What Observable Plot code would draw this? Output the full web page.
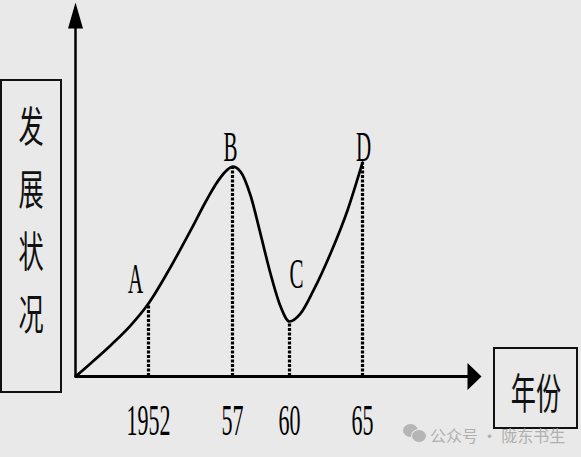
<!DOCTYPE html>
<html>
<head>
<meta charset="utf-8">
<script src="https://cdn.jsdelivr.net/npm/d3@7"></script>
<script src="https://cdn.jsdelivr.net/npm/@observablehq/plot@0.6"></script>
<style>
  html, body { margin: 0; padding: 0; background: #e9e9e9; }
  #wrap { position: relative; width: 581px; height: 457px; overflow: hidden; background: #e9e9e9; }
  #chart { position: absolute; left: 0; top: 0; }
  .box { position: absolute; border: 2.5px solid #111; box-sizing: border-box; font-family: "Noto Sans CJK SC", sans-serif; color: #111; }
  #ybox { left: 0px; top: 79px; width: 62px; height: 314px; padding-top: 12px; }
  #ybox .ch { height: 62.5px; line-height: 62.5px; text-align: center; font-size: 42px; transform: scaleX(0.6); }
  #xbox { left: 493px; top: 347px; width: 85px; height: 82px; display: flex; align-items: center; justify-content: center; padding-top: 6px; }
  #xbox .ch { font-size: 42px; line-height: 1; transform: scaleX(0.6); white-space: nowrap; }
  #wm { position: absolute; left: 430px; top: 425px; font-family: "Noto Sans CJK SC", sans-serif; font-size: 16px; line-height: 20px; color: #b0b0b0; white-space: pre; }
  .bub { position: absolute; background: #b5b5b5; border-radius: 50%; }
</style>
</head>
<body>
<div id="wrap">
  <div id="chart"></div>
  <div id="ybox" class="box"></div>
  <div id="xbox" class="box"><div class="ch"></div></div>
  <div class="bub" style="left:403px;top:424px;width:15px;height:13px;"></div>
  <div class="bub" style="left:411px;top:429px;width:14px;height:12px;border:1.5px solid #e9e9e9;"></div>
  <div id="wm"></div>
</div>
<script>
// ---- data ----
const curveYears  = [1949, 1949.62, 1950.44, 1951.26, 1952, 1953.13, 1954.5, 1955.51, 1956.11, 1956.7, 1957,
                     1957.42, 1957.95, 1958.47, 1959.0, 1959.53, 1960, 1960.75, 1961.64, 1962.81, 1963.97, 1965];
const curveValues = [0, 3.5, 8.3, 13.6, 19.5, 27.8, 39.0, 47.6, 52.1, 55.3, 56.1,
                     54.8, 48.4, 38.2, 27.5, 18.7, 14.7, 16.8, 23.0, 32.9, 44.4, 57.2];
const pointNames  = ["A", "B", "C", "D"];
const pointYears  = [1952, 1957, 1960, 1965];
const pointValues = [19.5, 56.1, 14.7, 57.2];
const tickYears   = [1952, 1957, 1960, 1965];
const tickLabels  = ["1952", "57", "60", "65"];
const axisYears   = [1949, 1972];
const axisValues  = [0, 100];
const yAxisLabel  = ["发", "展", "状", "况"];
const xAxisLabel  = "年份";
const watermark   = "公众号 · 陇东书生";

// label offsets (style)
const labelDx = [-13, -2, 7, 1];
const labelDy = [-24, -19, -47, -15];

const curve = curveYears.map((x, i) => ({x, y: curveValues[i]}));
const pts = pointNames.map((name, i) => ({name, x: pointYears[i], y: pointValues[i]}));

const arrowUp = {draw(ctx) { ctx.moveTo(0, 0); ctx.lineTo(-7.5, 26); ctx.lineTo(7.5, 26); ctx.closePath(); }};
const arrowRight = {draw(ctx) { ctx.moveTo(0, 0); ctx.lineTo(-14, -13.5); ctx.lineTo(-14, 13.5); ctx.closePath(); }};

const serif = "'Liberation Serif', 'Times New Roman', serif";

const marks = [
  Plot.ruleX([axisYears[0]], {y1: axisValues[0], y2: axisValues[1] - 3, stroke: "#000", strokeWidth: 2.5}),
  Plot.ruleY([axisValues[0]], {x1: axisYears[0], x2: axisYears[1] - 0.5, stroke: "#000", strokeWidth: 2.8}),
  Plot.dot([{x: axisYears[0], y: axisValues[1]}], {x: "x", y: "y", symbol: arrowUp, fill: "#000", stroke: "none"}),
  Plot.dot([{x: axisYears[1], y: axisValues[0]}], {x: "x", y: "y", symbol: arrowRight, fill: "#000", stroke: "none"}),
  Plot.ruleX(pts, {x: "x", y1: 0, y2: "y", stroke: "#000", strokeWidth: 3.2, strokeDasharray: "3,1.5"}),
  Plot.line(curve, {x: "x", y: "y", curve: "monotone-x", stroke: "#000", strokeWidth: 2.7}),
  Plot.axisX(tickYears, {tickSize: 0, tickPadding: 27, fontSize: 44, fontFamily: serif, fill: "#000", label: null,
    tickFormat: d => tickLabels[tickYears.indexOf(d)]}),
  ...pts.map((p, i) => Plot.text([p], {x: "x", y: "y", text: "name", dx: labelDx[i], dy: labelDy[i],
    fontSize: 42, fontFamily: serif, fill: "#000"}))
];

const chart = Plot.plot({
  width: 581,
  height: 457,
  marginLeft: 75,
  marginRight: 100,
  marginTop: 2,
  marginBottom: 81,
  style: {background: "transparent", overflow: "visible"},
  x: {type: "linear", domain: [1949, 1952, 1957, 1960, 1965, 1972], range: [75, 148, 232, 289, 362, 481], axis: null},
  y: {type: "linear", domain: axisValues, range: [376, 2], axis: null},
  marks
});

// condense the serif text horizontally, like the reference's narrow glyphs
chart.querySelectorAll("text").forEach(t => {
  const tr = t.getAttribute("transform");
  if (tr) t.setAttribute("transform", tr + " scale(0.5,1)");
  else {
    const x = +t.getAttribute("x") || 0;
    t.setAttribute("transform", `translate(${x},0) scale(0.5,1) translate(${-x},0)`);
  }
});

document.getElementById("chart").appendChild(chart);

const ybox = document.getElementById("ybox");
yAxisLabel.forEach(c => { const d = document.createElement("div"); d.className = "ch"; d.textContent = c; ybox.appendChild(d); });
document.querySelector("#xbox .ch").textContent = xAxisLabel;
document.getElementById("wm").textContent = watermark;
</script>
</body>
</html>
